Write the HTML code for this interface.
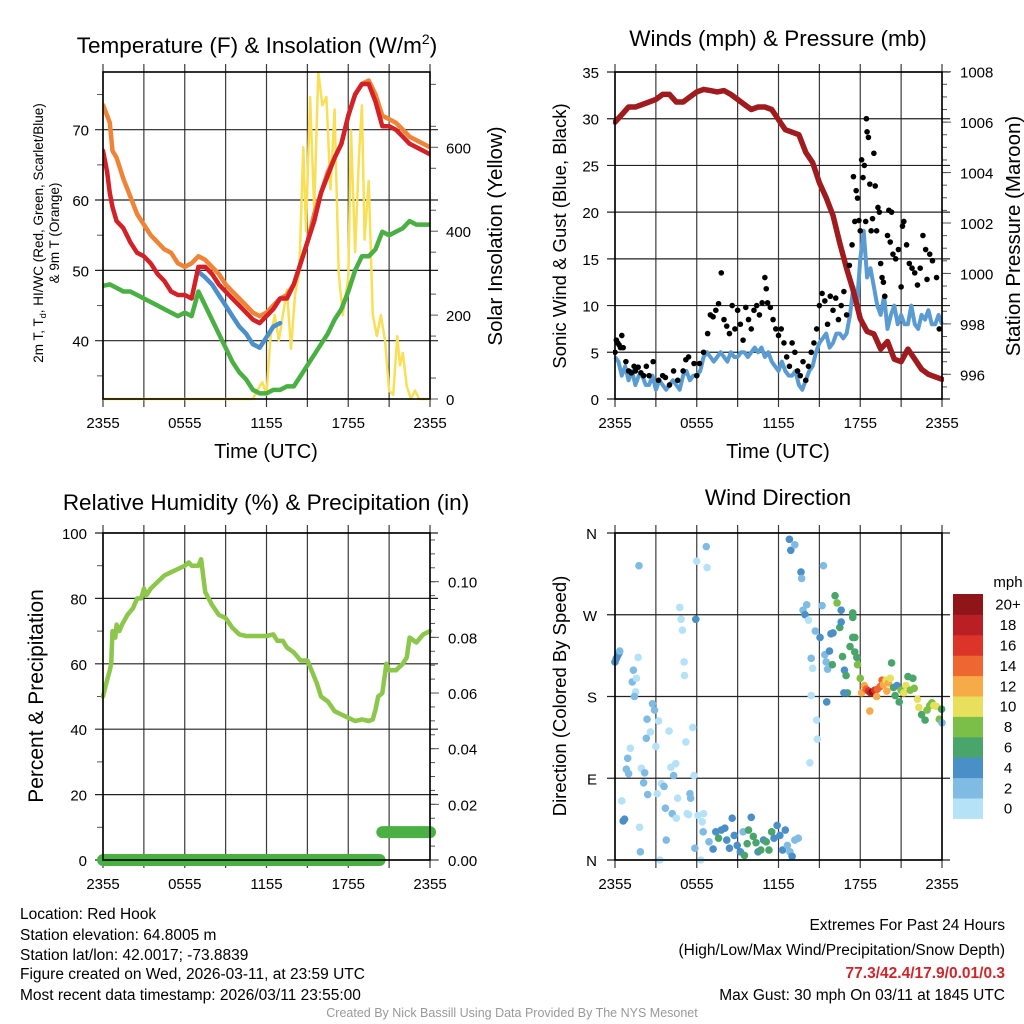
<!DOCTYPE html>
<html><head><meta charset="utf-8">
<style>
html,body{margin:0;padding:0;background:#fff;}
svg{display:block;font-family:"Liberation Sans",sans-serif;}
.info{position:absolute;font-family:"Liberation Sans",sans-serif;font-size:15.5px;color:#000;white-space:nowrap;}
</style></head>
<body>
<div style="position:relative;width:1024px;height:1024px;overflow:hidden;">
<svg id="fig" width="1024" height="1024" viewBox="0 0 1024 1024" xmlns="http://www.w3.org/2000/svg"></svg>
<div class="info" style="left:20px;top:906px;">Location: Red Hook</div>
<div class="info" style="left:20px;top:927px;">Station elevation: 64.8005 m</div>
<div class="info" style="left:20px;top:947px;">Station lat/lon: 42.0017; -73.8839</div>
<div class="info" style="left:20px;top:966px;">Figure created on Wed, 2026-03-11, at 23:59 UTC</div>
<div class="info" style="left:20px;top:987px;">Most recent data timestamp: 2026/03/11 23:55:00</div>
<div class="info" style="right:19px;top:917px;">Extremes For Past 24 Hours</div>
<div class="info" style="right:19px;top:942px;">(High/Low/Max Wind/Precipitation/Snow Depth)</div>
<div class="info" style="right:19px;top:965px;color:#d0262b;font-weight:bold;">77.3/42.4/17.9/0.01/0.3</div>
<div class="info" style="right:19px;top:987px;">Max Gust: 30 mph On 03/11 at 1845 UTC</div>
<div class="info" style="left:0;width:1024px;text-align:center;top:1006px;font-size:12.5px;color:#999;">Created By Nick Bassill Using Data Provided By The NYS Mesonet</div>
</div>
<script>
// ---------- Panel 1 data (hours since 2355) ----------
const tempHours = [0,0.3,0.5,0.7,1,1.5,2,2.5,3,3.5,4,4.5,5,5.5,6,6.5,7,7.5,8,8.5,9,9.5,10,10.5,11,11.5,12,12.5,13,13.5,14,14.5,15,15.5,16,16.5,17,17.5,18,18.5,19,19.5,20,20.5,21,21.5,22,22.5,23,23.5,24];
const temp9m = [73.5,72,71,67,66,63,60.5,58,56.5,55,54,53,52.5,51,50.5,51,52,51.5,50.5,49.5,48,47,46,45,44,43.5,44,45,46,46.5,48,51,54,58,61,64,66,68,72,75,76.5,77,75,72,71.5,71,70,69,68.5,68,67.5];
const temp2m = [67,64,61,59,57,56,54,52.5,52,51,49.5,48.5,47,46.5,46.5,46,50.5,50.5,49.5,48,47,46,45,44,43,42.5,43.5,44.5,46,46,48,51,54,57,61,63.5,66,68,72,75,76.5,76.5,74,70.5,70.5,70,69,68,67.5,67,66.5];
const dewHours = [0,0.5,1,1.5,2,2.5,3,3.5,4,4.5,5,5.5,6,6.5,7,7.5,8,8.5,9,9.5,10,10.5,11,11.5,12,12.5,13,13.5,14,14.5,15,15.5,16,16.5,17,17.5,18,18.5,19,19.5,20,20.5,21,21.5,22,22.5,23,23.5,24];
const dewpoint = [47.8,48,47.5,47,47,46.5,46,45.5,45,44.5,44,43.5,44,43.5,47,45,43,41,39,37,35.5,34.5,33,32.5,32.5,33,33,33.5,33.5,35,36.5,38,39.5,41,43,44.5,47,50,52,52,53,55.5,55,55.5,56,57,56.5,56.5,56.5];
const wcHours = [7,7.5,8,8.5,9,9.5,10,10.5,11,11.5,12,12.5,13];
const windChill = [49.8,49,48,46.5,45,43.5,42,41,39.5,39,40.5,42,42.5];
const solarHours = [0,11,11.3,11.7,12,12.3,12.6,12.9,13.2,13.5,13.8,14.1,14.4,14.7,14.9,15.2,15.5,15.8,16.1,16.4,16.7,17,17.3,17.6,18,18.2,18.5,18.8,19,19.2,19.5,19.8,20.1,20.4,20.7,21,21.3,21.6,21.8,22,22.3,22.6,22.9,23.2,24];
const solar = [0,0,20,40,10,150,200,140,200,260,120,250,300,600,400,720,450,780,700,720,500,690,300,200,290,640,350,590,700,380,520,200,150,200,140,20,10,150,80,110,30,0,20,0,0];
const p1LeftTicks = [40,50,60,70];
const p1RightTicks = [0,200,400,600];
const timeTickLabels = ["2355","0555","1155","1755","2355"];
// ---------- Panel 2 data ----------
const presHours = [0,0.5,1,1.5,2,2.5,3,3.5,4,4.5,5,5.5,6,6.5,7,7.5,8,8.5,9,9.5,10,10.5,11,11.5,12,12.5,13,13.5,14,14.5,15,15.5,16,16.5,17,17.5,18,18.5,19,19.5,20,20.5,21,21.5,22,22.5,23,23.5,24];
const pressure = [1006,1006.3,1006.6,1006.6,1006.7,1006.8,1006.9,1007.1,1007.1,1006.8,1006.8,1007.0,1007.2,1007.3,1007.25,1007.2,1007.25,1007.1,1006.9,1006.7,1006.5,1006.6,1006.6,1006.5,1006.1,1005.7,1005.6,1005.5,1004.8,1004.4,1003.6,1003,1002.3,1001.2,1000.2,999.3,998.2,997.7,997.6,997,997.3,996.6,996.5,997.0,996.6,996.2,996.0,995.9,995.8];
const windHours = [0,0.25,0.5,0.75,1,1.25,1.5,1.75,2,2.25,2.5,2.75,3,3.25,3.5,3.75,4,4.25,4.5,4.75,5,5.25,5.5,5.75,6,6.25,6.5,6.75,7,7.25,7.5,7.75,8,8.25,8.5,8.75,9,9.25,9.5,9.75,10,10.25,10.5,10.75,11,11.25,11.5,11.75,12,12.25,12.5,12.75,13,13.25,13.5,13.75,14,14.25,14.5,14.75,15,15.25,15.5,15.75,16,16.25,16.5,16.75,17,17.25,17.5,17.75,18,18.25,18.5,18.75,19,19.25,19.5,19.75,20,20.25,20.5,20.75,21,21.25,21.5,21.75,22,22.25,22.5,22.75,23,23.25,23.5,23.75,24];
const windSpeed = [4.5,4,2.5,3.5,2,3,1.5,2.5,2.5,1.5,1.5,2.5,1,2,1.5,1,1.5,2,1.5,1,2.5,3,2,2.5,2.5,3,4.5,5,4.5,4,4.5,5,4.5,4,5,4.5,4.5,5,5,4.5,5,5.5,5,5.5,4.5,5,4,3.5,3,4,3,2.5,2.5,3,1.5,1,2,3,3.5,5,6,6.5,7,5.5,6,7,7,6.5,7,9,12,10,15,18,13,14,12,10,9,11,7.5,9,10,8,9,8,8,10,8,7.5,9,8.5,9.5,8,8,9,8,7,4];
const gustHours = [0,0.1,0.2,0.3,0.4,0.5,0.6,0.8,1,1.2,1.4,1.5,1.7,1.9,2.1,2.3,2.5,2.8,3.2,3.5,3.7,4,4.3,4.6,5,5.2,5.4,5.8,6,6.2,6.5,6.8,7,7.2,7.4,7.6,7.8,8,8.2,8.4,8.6,8.8,9,9.2,9.4,9.6,9.8,10,10.2,10.4,10.6,10.8,11,11.1,11.2,11.4,11.6,11.8,12,12.2,12.4,12.6,12.8,13,13.2,13.4,13.6,13.8,14,14.2,14.4,14.6,14.8,15,15.2,15.4,15.6,15.8,16,16.2,16.4,16.6,16.8,17,17.2,17.4,17.5,17.6,17.7,17.8,17.9,18,18.1,18.2,18.3,18.4,18.45,18.5,18.6,18.7,18.8,18.9,19,19.1,19.2,19.3,19.4,19.5,19.6,19.7,19.8,20,20.1,20.2,20.3,20.4,20.6,20.8,21,21.1,21.2,21.4,21.6,21.8,22,22.2,22.4,22.6,22.8,22.9,23.1,23.3,23.6,23.8];
const gustSpeed = [5,6.3,6,5.8,5.5,6.8,5.5,4,3,2.8,3.5,3,3.4,2.8,2.5,3.5,2.5,4,2,2.5,2.3,1.5,3,2,3,4.2,4.5,3.8,2.5,3.8,5,7,9,8.8,9.5,10.2,13.5,8.5,7.8,7,10,7.5,9.5,8,6.3,9.8,8.5,7.5,9.5,10,9,10.3,13,11.8,10.3,9.8,8.5,7.5,6.8,7.5,6,4.5,3.5,6,5,3,2.5,4,2,3.5,5,6,7.5,10,11.3,10.5,8,11,9.5,10.8,8.5,10,11.5,9,14.3,16.5,23.8,19,22.3,21.5,19.1,18,25.6,23.7,25,19,30,28.6,28,23,18,19.3,26.3,22.8,18,20.5,20,14.5,13,12.5,11,17.5,20.2,16.8,20,15.5,15,16,12,18.5,19,16.5,14.5,14,13.5,12.2,14,17.5,16,12.8,15.5,14.8,13,7.5];
const p2LeftTicks = [0,5,10,15,20,25,30,35];
const p2RightTicks = [996,998,1000,1002,1004,1006,1008];
// ---------- Panel 3 data ----------
const rhHours = [0,0.3,0.5,0.6,0.7,0.9,1.0,1.2,1.4,1.8,2.2,2.5,2.8,3.0,3.2,3.5,4,4.5,5,5.5,6,6.3,6.5,7,7.2,7.5,8,8.5,9,9.5,10,10.5,11,11.5,12,12.5,12.8,13.2,13.5,14,14.5,15,15.3,15.7,16,16.5,17,17.5,18,18.5,19,19.5,19.8,20,20.2,20.5,20.8,21,21.5,22,22.3,22.5,23,23.5,24];
const relHumidity = [50,55,58,60,70,68,72,70,72,75,77,80,80,83,81,83,85,87,88,89,90,91,90,90,92,82,78,75,74,71,69,68.5,68.5,68.5,68.5,69,67,67,65,63.5,61,61,58,54,50,48.5,45.5,44.5,43.5,42.5,43,42.5,43,46,50,51,60,58,58,60,62,68,66.5,69,70];
const precipHours = [0,20.3,20.5,24];
const precip = [0,0,0.01,0.01];
const p3LeftTicks = [0,20,40,60,80,100];
const p3RightTicks = [0,0.02,0.04,0.06,0.08,0.10];
// ---------- Panel 4 data (rows of 10, aligned across arrays) ----------
const dirHours = [
 0,0.1,0.2,0.3,0.35,1.35,1.27,1.57,1.52,1.42,
 1.7,1.76,0.93,1.13,0.83,1.0,1.94,2.18,2.1,2.4,
 1.8,1.86,2.35,2.3,2.6,2.75,2.9,3.0,3.2,3.1,
 3.4,3.6,3.7,3.76,3.3,3.97,4.1,4.3,4.2,4.5,
 4.6,4.46,4.75,4.85,4.95,5.07,5.1,5.2,5.3,5.4,
 5.5,5.55,5.7,5.8,5.93,6.0,6.7,6.76,6.1,6.5,
 6.4,5.86,6.3,0.5,0.6,0.7,6.47,6.9,7.2,7.4,
 7.6,7.8,8.06,8.2,8.4,8.6,8.75,8.97,9.2,9.4,
 9.5,9.7,9.8,10.0,10.15,10.35,10.5,10.7,10.9,11.1,
 11.3,11.5,11.67,11.9,12.1,12.3,12.5,12.65,12.84,13.0,
 13.2,13.45,12.8,12.9,13.2,13.65,13.7,13.8,13.95,14.2,
 14.07,14.7,15.05,15.3,15.2,14.4,14.5,15.4,15.5,15.6,
 15.74,15.85,16.0,16.15,16.3,16.5,16.6,16.6,15.95,15.54,
 16.84,16.96,17.06,16.8,17.25,17.45,17.45,17.45,17.6,17.6,
 17.75,17.8,18.0,16.7,14.8,14.85,14.4,14.3,18.1,18.3,
 18.43,18.6,18.77,18.9,19.07,19.26,19.46,19.6,19.7,19.9,
 20.07,20.2,18.7,19.2,19.95,20.3,20.44,20.56,20.7,20.86,
 21.0,21.2,21.35,21.5,21.67,21.86,21.96,22.2,22.3,22.5,
 22.76,22.9,23.1,23.26,23.4,23.6,23.8,23.97,24.0];
const dirDegrees = [
 218,222,225,228,230,209,196,200,185,180,
 223,324,112,123,100,95,101,96,85,72,
 36,9,155,134,141,172,165,125,153,73,
 84,81,57,22,0,142,102,93,51,46,
 68,106,278,265,253,218,203,130,51,50,
 73,68,146,93,265,329,345,322,49,51,
 42,13,0,65,43,45,31,20,12,31,
 24,33,35,22,13,46,27,16,9,31,
 5,18,33,47,26,19,9,11,22,20,
 11,31,24,38,27,11,33,16,9,4,
 22,24,353,341,347,317,310,275,270,264,
 281,252,245,324,280,222,211,226,218,210,
 230,249,250,291,283,256,262,275,215,174,
 209,203,184,184,235,245,267,272,245,229,
 223,215,200,224,154,133,181,107,184,192,
 188,186,184,185,187,188,191,198,193,198,
 195,200,164,180,186,217,190,181,192,174,
 187,184,192,202,187,200,189,177,168,160,
 154,165,170,173,170,169,155,166,151];
const dirSpeeds = [
 4,4,4,4,3,2,2,1,1,2,
 0,2,3,1,2,3,1,3,2,2,
 0,2,3,3,1,3,3,0,0,0,
 1,2,3,3,0,1,0,3,2,0,
 1,0,0,0,0,0,0,0,1,1,
 2,2,0,0,4,0,2,0,0,1,
 1,2,1,1,4,4,2,3,4,4,
 6,4,4,4,4,4,4,4,4,2,
 6,6,6,4,6,6,4,6,4,6,
 6,6,4,4,4,4,4,2,2,4,
 2,2,4,4,2,4,2,2,4,1,
 2,2,4,2,2,2,1,2,2,2,
 4,4,4,6,8,6,4,4,6,4,
 4,6,6,4,6,6,6,6,6,6,
 6,8,8,6,1,0,0,0,12,12,
 14,16,18,20,16,14,14,14,12,10,
 12,10,12,12,12,6,6,6,4,6,
 8,10,10,6,8,6,8,10,10,6,
 6,8,8,8,10,10,8,6,2];
const dirTickLabels = ["N","E","S","W","N"];
const speedBinLabels = ["0","2","4","6","8","10","12","14","16","18","20+"];
const speedBinColors = ["#b5e2f7","#80bbe4","#4a8fc7","#4aa56b","#7cbf48","#e8e05c","#f6aa48","#ef6730","#dd3429","#bb1f26","#8f1519"];

const NS = "http://www.w3.org/2000/svg";
const svg = document.getElementById("fig");
function mk(tag, attrs, parent) {
  const e = document.createElementNS(NS, tag);
  for (const k in attrs) e.setAttribute(k, attrs[k]);
  (parent || svg).appendChild(e);
  return e;
}
function txt(s, x, y, size, anchor, parent, extra) {
  const t = mk("text", Object.assign({x: x, y: y, "font-size": size, "text-anchor": anchor || "middle", fill: "#000"}, extra || {}), parent);
  t.textContent = s;
  return t;
}
function scale(d0, d1, r0, r1) { return v => r0 + (v - d0) * (r1 - r0) / (d1 - d0); }
function linePath(xs, ys, sx, sy) {
  let d = "";
  for (let i = 0; i < xs.length; i++) d += (i ? "L" : "M") + sx(xs[i]).toFixed(1) + " " + sy(ys[i]).toFixed(1);
  return d;
}

function frame(L, T, R, B, g, name) {
  const sx = scale(0, 24, L, R);
  for (let h = 0; h <= 24; h += 3) {
    const x = sx(h);
    const gl = mk("line", {x1: x, y1: T - 8, x2: x, y2: B + 8, stroke: "#3a3a3a", "stroke-width": 1.2}, g);
    
    
  }
  for (let i = 0; i < 5; i++) {
    const t = txt(timeTickLabels[i], sx(i * 6), B + 29, 15, "middle", g);
    
    
  }
  return sx;
}
function box(L, T, R, B, g, name) {
  const r = mk("rect", {x: L, y: T, width: R - L, height: B - T, fill: "none", stroke: "#000", "stroke-width": 1.6}, g);
  
  
}
function hgrid(L, R, y, g, name) {
  const l = mk("line", {x1: L - 8, y1: y, x2: R + 8, y2: y, stroke: "#222", "stroke-width": 1.2}, g);
  
  
}
function tick(x1, y1, x2, y2, g) {
  const l = mk("line", {x1: x1, y1: y1, x2: x2, y2: y2, stroke: "#555", "stroke-width": 1}, g);
  
  
}

// ===== Panel 1 =====
(function () {
  const L = 103, T = 72, R = 430, B = 399;
  const g = mk("g", {});
  
  
  const sx = frame(L, T, R, B, g, "temp");
  const sy = scale(40, 70, 340.7, 129.7);
  const sy2 = scale(0, 600, 399, 147.3);
  for (let v = 35; v <= 75; v += 5) {
    if (v % 10 === 0) continue;
    tick(L - 6, sy(v), L, sy(v), g);
  }
  for (let v = 50; v <= 750; v += 100) tick(R, sy2(v), R + 6, sy2(v), g);
  p1LeftTicks.forEach(v => {
    hgrid(L, R, sy(v), g, "temp");
    const t = txt(String(v), L - 14, sy(v) + 6, 15, "end", g);
    
    
  });
  p1RightTicks.forEach(v => {
    tick(R, sy2(v), R + 8, sy2(v), g);
    const t = txt(String(v), R + 16, sy2(v) + 6, 15, "start", g);
    
    
  });
  const clip = mk("clipPath", {id: "c1"}, g);
  mk("rect", {x: L, y: T, width: R - L, height: B - T + 2}, clip);
  const lg = mk("g", {"clip-path": "url(#c1)"}, g);
  const series = [
    [solarHours, solar, sy2, "#f8df55", 2.5, "solar-insolation-line"],
    [dewHours, dewpoint, sy, "#4bb043", 4.5, "dewpoint-line"],
    [tempHours, temp9m, sy, "#f08436", 4.5, "temp-9m-line"],
    [wcHours, windChill, sy, "#4b8fcb", 4.5, "wind-chill-line"],
    [tempHours, temp2m, sy, "#d42127", 4.5, "temp-2m-line"]
  ];
  series.forEach(s => {
    const p = mk("path", {d: linePath(s[0], s[1], sx, s[2]), fill: "none", stroke: s[3], "stroke-width": s[4], "stroke-linejoin": "round", "stroke-linecap": "round"}, lg);
    
    
  });
  box(L, T, R, B, g, "temp");
  const t1 = txt("Temperature (F) & Insolation (W/m", 257, 53, 22.5, "middle", g);
  
  
  const sup = mk("tspan", {dy: -9, "font-size": 14}, t1); sup.textContent = "2";
  const cl = mk("tspan", {dy: 9}, t1); cl.textContent = ")";
  const xl = txt("Time (UTC)", 266, 458, 20, "middle", g);
  
  
  const yl = txt("", 0, 0, 13.5, "middle", g, {transform: "translate(43,233) rotate(-90)"});
  
  
  yl.innerHTML = '<tspan>2m T, T</tspan><tspan dy="3" font-size="9">d</tspan><tspan dy="-3">, HI/WC (Red, Green, Scarlet/Blue)</tspan>';
  const yl2 = txt("& 9m T (Orange)", 0, 0, 13.5, "middle", g, {transform: "translate(59,233) rotate(-90)"});
  
  
  const yr = txt("Solar Insolation (Yellow)", 0, 0, 20.5, "middle", g, {transform: "translate(502,236) rotate(-90)"});
  
  
})();

// ===== Panel 2 =====
(function () {
  const L = 615, T = 72, R = 942, B = 399;
  const g = mk("g", {});
  
  
  const sx = frame(L, T, R, B, g, "wind");
  const sy = scale(0, 35, B, T);
  const sy2 = scale(996, 1008, 374.3, 71.7);
  p2LeftTicks.forEach(v => {
    hgrid(L, R, sy(v), g, "wind");
    const t = txt(String(v), L - 16, sy(v) + 6, 15, "end", g);
    
    
  });
  for (let v = 995.5; v <= 1008; v += 0.5) tick(R, sy2(v), R + 5, sy2(v), g);
  p2RightTicks.forEach(v => {
    tick(R, sy2(v), R + 9, sy2(v), g);
    const t = txt(String(v), R + 18, sy2(v) + 6, 15, "start", g);
    
    
  });
  const clip = mk("clipPath", {id: "c2"}, g);
  mk("rect", {x: L - 2, y: T, width: R - L + 4, height: B - T + 3}, clip);
  const lg = mk("g", {"clip-path": "url(#c2)"}, g);
  const wl = mk("path", {d: linePath(windHours, windSpeed, sx, sy), fill: "none", stroke: "#5a9bd2", "stroke-width": 4, "stroke-linejoin": "round"}, lg);
  
  
  const pl = mk("path", {d: linePath(presHours, pressure, sx, sy2), fill: "none", stroke: "#a01b1e", "stroke-width": 5.5, "stroke-linejoin": "round", "stroke-linecap": "round"}, lg);
  
  
  for (let i = 0; i < gustHours.length; i++) {
    const c = mk("circle", {cx: sx(gustHours[i]), cy: sy(gustSpeed[i]), r: 2.8, fill: "#000"}, lg);
    
    
  }
  box(L, T, R, B, g, "wind");
  const t1 = txt("Winds (mph) & Pressure (mb)", 778, 46, 22.5, "middle", g);
  
  
  const xl = txt("Time (UTC)", 778, 458, 20, "middle", g);
  
  
  const yl = txt("Sonic Wind & Gust (Blue, Black)", 0, 0, 18.5, "middle", g, {transform: "translate(566,236) rotate(-90)"});
  
  
  const yr = txt("Station Pressure (Maroon)", 0, 0, 20.5, "middle", g, {transform: "translate(1020,236) rotate(-90)"});
  
  
})();

// ===== Panel 3 =====
(function () {
  const L = 103, T = 533, R = 430, B = 860;
  const g = mk("g", {});
  
  
  const sx = frame(L, T, R, B, g, "rh");
  const sy = scale(0, 100, B, T);
  const sy2 = scale(0, 0.10, 860, 581.7);
  for (let v = 10; v <= 90; v += 20) tick(L - 6, sy(v), L, sy(v), g);
  for (let v = 0.005; v <= 0.118; v += 0.005) tick(R, sy2(v), R + 5, sy2(v), g);
  p3LeftTicks.forEach(v => {
    hgrid(L, R, sy(v), g, "rh");
    const t = txt(String(v), L - 16, sy(v) + 6, 15, "end", g);
    
    
  });
  p3RightTicks.forEach(v => {
    tick(R, sy2(v), R + 9, sy2(v), g);
    const t = txt(v.toFixed(2), R + 18, sy2(v) + 6, 15, "start", g);
    
    
  });
  const rl = mk("path", {d: linePath(rhHours, relHumidity, sx, sy), fill: "none", stroke: "#8cc64a", "stroke-width": 4.5, "stroke-linejoin": "round", "stroke-linecap": "round"}, g);
  
  
  for (let i = 0; i < precipHours.length - 1; i++) {
    if (precip[i] !== precip[i + 1]) continue;
    const seg = mk("line", {x1: sx(precipHours[i]), y1: sy2(precip[i]), x2: sx(precipHours[i + 1]), y2: sy2(precip[i + 1]), stroke: "#4bb043", "stroke-width": 12, "stroke-linecap": "round"}, g);
    
    
  }
  box(L, T, R, B, g, "rh");
  const t1 = txt("Relative Humidity (%) & Precipitation (in)", 266, 510, 22.5, "middle", g);
  
  
  const yl = txt("Percent & Precipitation", 0, 0, 21, "middle", g, {transform: "translate(43,696) rotate(-90)"});
  
  
})();

// ===== Panel 4 =====
(function () {
  const L = 615, T = 533, R = 942, B = 860;
  const g = mk("g", {});
  
  
  const sx = frame(L, T, R, B, g, "dir");
  const sy = scale(0, 360, B, T);
  dirTickLabels.forEach((s, i) => {
    hgrid(L, R, sy(i * 90), g, "dir");
    const t = txt(s, L - 18, sy(i * 90) + 6, 15, "end", g);
    
    
  });
  const n = Math.min(dirHours.length, dirDegrees.length, dirSpeeds.length);
  for (let i = 0; i < n; i++) {
    const bin = Math.max(0, Math.min(10, Math.floor(dirSpeeds[i] / 2)));
    const c = mk("circle", {cx: sx(dirHours[i]), cy: sy(dirDegrees[i]), r: 3.8, fill: speedBinColors[bin]}, g);
    
    
  }
  box(L, T, R, B, g, "dir");
  const t1 = txt("Wind Direction", 778, 505, 22.5, "middle", g);
  
  
  const yl = txt("Direction (Colored By Speed)", 0, 0, 18.5, "middle", g, {transform: "translate(566,696) rotate(-90)"});
  
  
  const cb = mk("g", {}, g);
  
  
  const h = 20.4, top = 594;
  for (let i = 0; i < speedBinColors.length; i++) {
    const y = top + (10 - i) * h;
    const r = mk("rect", {x: 953, y: y, width: 30, height: h + 0.5, fill: speedBinColors[i]}, cb);
    
    
    const t = txt(speedBinLabels[i], 1008, y + h / 2 + 5.5, 15, "middle", cb);
    
    
  }
  const mph = txt("mph", 1008, 587, 15, "middle", cb);
  
  
})();
</script>
</body></html>
